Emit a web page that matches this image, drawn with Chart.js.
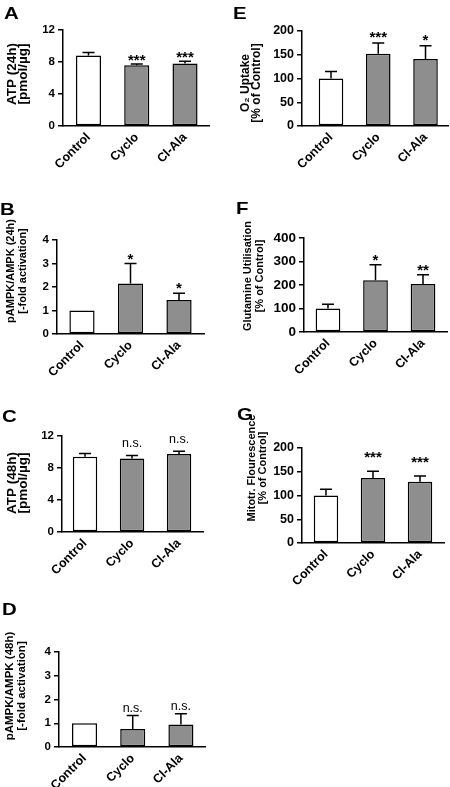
<!DOCTYPE html>
<html>
<head>
<meta charset="utf-8">
<script src="https://cdn.jsdelivr.net/npm/chart.js@4.4.1/dist/chart.umd.min.js"></script>
<style>
html,body{margin:0;padding:0;background:#ffffff;}
body{width:450px;height:787px;position:relative;overflow:hidden;}
canvas{position:absolute;}
</style>
</head>
<body>
<canvas id="cA"></canvas>
<canvas id="cB"></canvas>
<canvas id="cC"></canvas>
<canvas id="cD"></canvas>
<canvas id="cE"></canvas>
<canvas id="cF"></canvas>
<canvas id="cG"></canvas>
<script>
// ---- data ----
const categories = ['Control', 'Cyclo', 'Cl-Ala'];

const atp24Means = [8.8, 7.6, 7.8];
const atp24Sd    = [0.4, 0.15, 0.3];
const atp24Sig   = ['', '***', '***'];

const ampk24Means = [1.0, 2.15, 1.45];
const ampk24Sd    = [0, 0.85, 0.28];
const ampk24Sig   = ['', '*', '*'];

const atp48Means = [9.4, 9.2, 9.75];
const atp48Sd    = [0.4, 0.35, 0.35];
const atp48Sig   = ['', 'n.s.', 'n.s.'];

const ampk48Means = [1.0, 0.76, 0.95];
const ampk48Sd    = [0, 0.57, 0.45];
const ampk48Sig   = ['', 'n.s.', 'n.s.'];

const o2Means = [100, 152, 141];
const o2Sd    = [15, 23, 28];
const o2Sig   = ['', '***', '*'];

const glnMeans = [100, 220, 204];
const glnSd    = [18, 66, 40];
const glnSig   = ['', '*', '**'];

const mitoMeans = [100, 137, 129];
const mitoSd    = [13, 14, 12];
const mitoSig   = ['', '***', '***'];

const ticks12  = [0, 4, 8, 12];
const ticks4   = [0, 1, 2, 3, 4];
const ticks200 = [0, 50, 100, 150, 200];
const ticks400 = [0, 100, 200, 300, 400];

// ---- layout / style ----
const FONT = '"Liberation Sans", Arial, Helvetica, sans-serif';
Chart.defaults.font.family = FONT;
Chart.defaults.color = '#000';

const panels = [
  {id:'cA', letter:'A', left:0, top:0, w:225, h:190, area:[63,30,209,126], yTicks:ticks12, xRange:[-0.528,2.497],
   means:atp24Means, sd:atp24Sd, sig:atp24Sig, title:['ATP (24h)','[pmol/µg]'], titleFont:13.5, titleX:[12,23], titleY:74,
   letterPos:[4,19], tickFont:11.5, sigGap:6},
  {id:'cB', letter:'B', left:0, top:190, w:225, h:200, area:[57,240,204,334], yTicks:ticks4, xRange:[-0.515,2.515],
   means:ampk24Means, sd:ampk24Sd, sig:ampk24Sig, title:['pAMPK/AMPK (24h)','[-fold activation]'], titleFont:11, titleX:[11,23], titleY:271,
   letterPos:[0,215], tickFont:11.5, sigGap:7},
  {id:'cC', letter:'C', left:0, top:390, w:225, h:200, area:[62,436,203,532], yTicks:ticks12, xRange:[-0.49,2.51],
   means:atp48Means, sd:atp48Sd, sig:atp48Sig, title:['ATP (48h)','[pmol/µg]'], titleFont:13.5, titleX:[12,23], titleY:483,
   letterPos:[2,422], tickFont:11.5, sigGap:12},
  {id:'cD', letter:'D', left:0, top:590, w:225, h:197, area:[59,652,205,747], yTicks:ticks4, xRange:[-0.53,2.5],
   means:ampk48Means, sd:ampk48Sd, sig:ampk48Sig, title:['pAMPK/AMPK (48h)','[-fold activation]'], titleFont:11.5, titleX:[10,22], titleY:686,
   letterPos:[2,615], tickFont:11.5, sigGap:7},
  {id:'cE', letter:'E', left:225, top:0, w:225, h:190, area:[302,31,448,126], yTicks:ticks200, xRange:[-0.614,2.476],
   means:o2Means, sd:o2Sd, sig:o2Sig, title:['O\u2082 Uptake','[% of Control]'], titleFont:12, titleX:[246,257], titleY:83,
   letterPos:[233,19], tickFont:12.5, sigGap:8},
  {id:'cF', letter:'F', left:225, top:190, w:225, h:200, area:[304,238,447,332], yTicks:ticks400, xRange:[-0.505,2.505],
   means:glnMeans, sd:glnSd, sig:glnSig, title:['Glutamine Utilisation','[% of Control]'], titleFont:11, titleX:[248,260], titleY:276,
   letterPos:[236,214], tickFont:13.5, sigGap:7},
  {id:'cG', letter:'G', left:225, top:390, w:225, h:200, area:[302,448,444,543], yTicks:ticks200, xRange:[-0.51,2.51],
   means:mitoMeans, sd:mitoSd, sig:mitoSig, title:['Mitotr. Flourescence','[% of Control]'], titleFont:11, titleX:[252,263], titleY:468,
   letterPos:[237,420], tickFont:12.5, sigGap:16}
];

function makeExtras(p) {
  return {
    id: 'extras_' + p.id,
    afterDatasetsDraw(chart) {
      const ctx = chart.ctx;
      const meta = chart.getDatasetMeta(0);
      const ys = chart.scales.y;
      ctx.save();
      ctx.strokeStyle = '#000';
      ctx.lineWidth = 1.5;
      ctx.fillStyle = '#000';
      meta.data.forEach((bar, i) => {
        const x = bar.x;
        const yTop = ys.getPixelForValue(p.means[i]);
        const yErr = ys.getPixelForValue(p.means[i] + p.sd[i]);
        if (p.sd[i] > 0) {
          ctx.beginPath();
          ctx.moveTo(x, yTop);
          ctx.lineTo(x, yErr);
          ctx.moveTo(x - 6, yErr);
          ctx.lineTo(x + 6, yErr);
          ctx.stroke();
        }
        const s = p.sig[i];
        if (s) {
          ctx.textAlign = 'center';
          ctx.textBaseline = 'middle';
          if (s === 'n.s.') {
            ctx.font = '12.5px ' + FONT;
            ctx.fillText(s, x, yErr - p.sigGap);
          } else {
            ctx.font = 'bold 15px ' + FONT;
            ctx.fillText(s, x, yErr - p.sigGap + 3);
          }
        }
      });
      ctx.restore();
    },
    afterDraw(chart) {
      const ctx = chart.ctx;
      ctx.save();
      ctx.fillStyle = '#000';
      // panel letter (slightly wide, as in the figure)
      ctx.font = 'bold 17px ' + FONT;
      ctx.textAlign = 'left';
      ctx.textBaseline = 'alphabetic';
      ctx.save();
      ctx.translate(p.letterPos[0] - p.left, p.letterPos[1] - p.top);
      ctx.scale(1.2, 1);
      ctx.fillText(p.letter, 0, 0);
      ctx.restore();
      // y-axis title
      ctx.font = 'bold ' + p.titleFont + 'px ' + FONT;
      ctx.textAlign = 'center';
      ctx.textBaseline = 'middle';
      p.title.forEach((line, k) => {
        ctx.save();
        ctx.translate(p.titleX[k] - p.left, p.titleY - p.top);
        ctx.rotate(-Math.PI / 2);
        ctx.fillText(line, 0, 0);
        ctx.restore();
      });
      ctx.restore();
    }
  };
}

panels.forEach(p => {
  const cv = document.getElementById(p.id);
  cv.width = p.w; cv.height = p.h;
  cv.style.left = p.left + 'px'; cv.style.top = p.top + 'px';
  cv.style.width = p.w + 'px'; cv.style.height = p.h + 'px';
  const [aL, aT, aR, aB] = p.area;
  new Chart(cv, {
    type: 'bar',
    data: {
      datasets: [{
        data: p.means.map((v, i) => ({x: i, y: v})),
        backgroundColor: p.means.map((v, i) => i === 0 ? '#ffffff' : '#8e8e8e'),
        borderColor: '#000',
        borderWidth: 1.5,
        borderSkipped: false,
        barPercentage: 0.52,
        categoryPercentage: 1
      }]
    },
    options: {
      responsive: false,
      animation: false,
      events: [],
      devicePixelRatio: 1,
      layout: {padding: {left: 0, top: aT - p.top, right: (p.left + p.w) - aR, bottom: 0}},
      plugins: {legend: {display: false}, tooltip: {enabled: false}, title: {display: false}},
      scales: {
        x: {
          type: 'linear',
          offset: false,
          min: p.xRange[0], max: p.xRange[1],
          grid: {display: false, drawTicks: false, offset: false},
          border: {display: true, color: '#000', width: 1.5},
          ticks: {
            autoSkip: false, maxRotation: 45, minRotation: 45, padding: 4,
            color: '#000', font: {size: 12.5, weight: 'bold'},
            callback: v => categories[v]
          },
          afterBuildTicks: s => { s.ticks = categories.map((c, i) => ({value: i})); },
          afterFit: s => { s.height = (p.top + p.h) - aB; }
        },
        y: {
          min: p.yTicks[0], max: p.yTicks[p.yTicks.length - 1],
          grid: {display: true, drawOnChartArea: false, drawTicks: true, tickLength: 5, color: '#000', lineWidth: 1.5},
          border: {display: true, color: '#000', width: 1.5},
          ticks: {padding: 3, color: '#000', font: {size: p.tickFont, weight: 'bold'}},
          afterBuildTicks: s => { s.ticks = p.yTicks.map(v => ({value: v})); },
          afterFit: s => { s.width = aL - p.left; }
        }
      }
    },
    plugins: [makeExtras(p)]
  });
});
</script>
</body>
</html>
